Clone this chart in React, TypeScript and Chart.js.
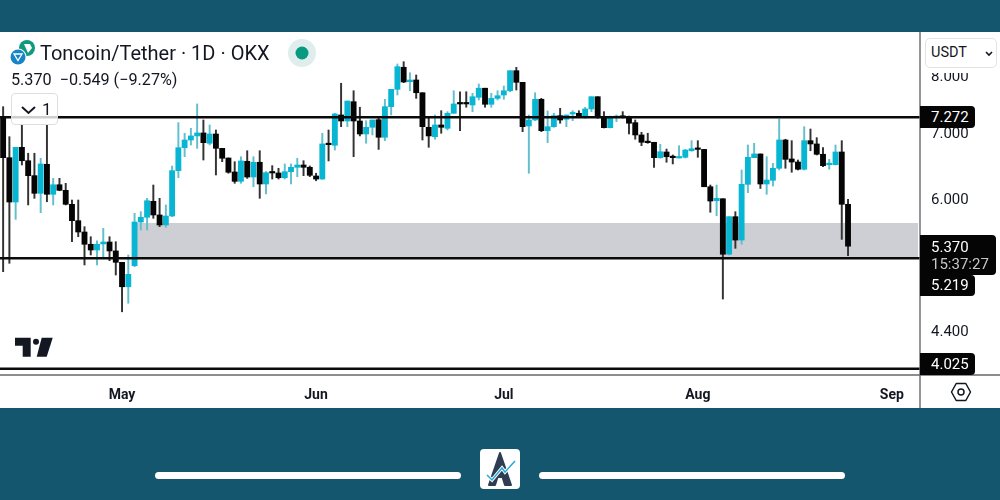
import React, { useEffect, useRef } from "react";
import { Chart, registerables } from "chart.js";

Chart.register(...registerables);

const opens = [
  7.255, 6.613, 5.958, 6.776, 6.566, 6.339, 6.081, 6.511, 6.067, 6.205,
  6.124, 5.926, 5.702, 5.552, 5.394, 5.322, 5.398, 5.423, 5.310, 5.170,
  4.881, 5.129, 5.684, 5.748, 5.968, 5.779, 5.645, 5.765, 6.414, 6.770,
  6.894, 6.960, 7.009, 6.841, 6.992, 6.760, 6.608, 6.394, 6.255, 6.557,
  6.319, 6.542, 6.216, 6.390, 6.379, 6.308, 6.399, 6.465, 6.500, 6.465,
  6.334, 6.289, 6.830, 6.809, 7.312, 7.209, 7.544, 7.209, 6.992, 7.103,
  7.231, 6.938, 7.456, 7.767, 8.180, 7.908, 7.939, 7.705, 7.103, 6.948,
  7.142, 7.086, 7.341, 7.516, 7.516, 7.486, 7.622, 7.787, 7.498, 7.603,
  7.664, 7.741, 8.115, 7.896, 7.125, 7.226, 7.587, 7.047, 7.113, 7.300,
  7.238, 7.329, 7.341, 7.265, 7.416, 7.633, 7.265, 7.097, 7.265, 7.293,
  7.272, 7.181, 6.976, 6.873, 6.857, 6.613, 6.702, 6.628, 6.608, 6.619,
  6.722, 6.754, 6.743, 6.176, 5.976, 6.004, 5.269, 5.756, 5.448, 6.211,
  6.613, 6.671, 6.216, 6.270, 6.450, 6.894, 6.593, 6.546, 6.435, 6.883,
  6.830, 6.666, 6.505, 6.505, 6.702, 5.926,
];
const closes = [
  6.613, 5.958, 6.776, 6.566, 6.339, 6.081, 6.516, 6.067, 6.205, 6.124,
  5.926, 5.702, 5.552, 5.394, 5.322, 5.394, 5.423, 5.310, 5.170, 4.881,
  5.026, 5.684, 5.748, 5.976, 5.779, 5.645, 5.765, 6.414, 6.770, 6.894,
  6.960, 7.009, 6.851, 6.992, 6.760, 6.604, 6.390, 6.255, 6.562, 6.319,
  6.542, 6.216, 6.384, 6.379, 6.308, 6.399, 6.465, 6.500, 6.465, 6.344,
  6.289, 6.830, 6.818, 7.329, 7.209, 7.556, 7.209, 6.992, 7.103, 7.226,
  6.938, 7.456, 7.767, 8.192, 7.902, 7.939, 7.705, 7.113, 6.960, 7.142,
  7.103, 7.341, 7.504, 7.504, 7.504, 7.633, 7.787, 7.498, 7.603, 7.651,
  7.741, 8.115, 7.896, 7.113, 7.226, 7.587, 7.047, 7.113, 7.300, 7.226,
  7.312, 7.341, 7.283, 7.416, 7.633, 7.283, 7.097, 7.265, 7.293, 7.272,
  7.171, 6.976, 6.857, 6.851, 6.613, 6.706, 6.628, 6.613, 6.619, 6.733,
  6.754, 6.743, 6.176, 5.972, 6.010, 5.269, 5.756, 5.448, 6.211, 6.619,
  6.671, 6.216, 6.274, 6.450, 6.894, 6.587, 6.546, 6.435, 6.883, 6.830,
  6.666, 6.490, 6.516, 6.702, 5.926, 5.370,
];
const highs = [
  7.456, 6.948, 6.776, 7.142, 6.682, 6.682, 6.604, 7.142, 6.299, 6.299,
  6.226, 5.986, 5.986, 5.622, 5.491, 5.439, 5.600, 5.491, 5.427, 5.170,
  5.260, 5.802, 5.824, 6.010, 6.201, 6.010, 5.917, 6.485, 7.181, 7.004,
  7.086, 7.504, 7.226, 7.142, 7.058, 6.760, 6.608, 6.551, 6.628, 6.722,
  6.628, 6.722, 6.399, 6.490, 6.450, 6.516, 6.516, 6.604, 6.566, 6.485,
  6.375, 7.004, 7.058, 7.341, 7.878, 7.556, 7.741, 7.446, 7.214, 7.226,
  7.255, 7.587, 7.767, 8.244, 8.288, 8.077, 8.033, 7.705, 7.255, 7.312,
  7.386, 7.369, 7.741, 7.723, 7.723, 7.694, 7.865, 7.787, 7.694, 7.741,
  7.828, 8.115, 8.180, 7.896, 7.312, 7.705, 7.603, 7.381, 7.341, 7.428,
  7.312, 7.386, 7.386, 7.446, 7.633, 7.633, 7.369, 7.293, 7.312, 7.369,
  7.293, 7.226, 7.020, 7.004, 6.857, 6.825, 6.749, 6.655, 6.802, 6.743,
  6.883, 6.883, 6.743, 6.201, 6.201, 6.004, 5.756, 5.824, 6.424, 6.813,
  6.841, 6.671, 6.628, 6.526, 7.243, 6.906, 6.883, 6.577, 7.113, 7.074,
  6.932, 6.770, 6.587, 6.813, 6.883, 5.996,
];
const lows = [
  5.057, 5.158, 5.720, 6.500, 5.917, 6.010, 5.810, 5.962, 5.917, 6.118,
  5.917, 5.427, 5.491, 5.138, 5.260, 5.138, 5.239, 5.190, 5.018, 4.602,
  4.695, 5.117, 5.578, 5.578, 5.734, 5.622, 5.614, 5.756, 6.308, 6.628,
  6.813, 6.760, 6.577, 6.813, 6.349, 6.551, 6.375, 6.226, 6.226, 6.299,
  6.176, 6.010, 6.071, 6.289, 6.289, 6.289, 6.216, 6.324, 6.339, 6.324,
  6.264, 6.284, 6.562, 6.733, 7.113, 7.113, 6.628, 6.960, 6.841, 6.976,
  6.743, 6.883, 7.312, 7.664, 7.889, 7.741, 7.603, 6.894, 6.776, 6.906,
  7.004, 7.058, 7.341, 7.047, 7.446, 7.369, 7.574, 7.446, 7.446, 7.574,
  7.587, 7.723, 7.754, 7.030, 6.375, 7.214, 7.030, 6.851, 7.103, 7.171,
  7.113, 7.214, 7.272, 7.255, 7.369, 7.255, 7.092, 7.092, 7.197, 7.260,
  6.992, 6.906, 6.802, 6.841, 6.465, 6.604, 6.542, 6.516, 6.608, 6.608,
  6.713, 6.619, 6.176, 5.816, 5.769, 4.742, 5.260, 5.343, 5.394, 6.090,
  6.613, 6.151, 6.067, 6.186, 6.424, 6.450, 6.390, 6.424, 6.424, 6.722,
  6.655, 6.475, 6.435, 6.500, 5.457, 5.252,
];

const monthNames = ["Apr", "May", "Jun", "Jul", "Aug", "Sep"];
const monthFirstDays = [12, 1, 1, 1, 1, 1];
const monthLengths = [30, 31, 30, 31, 31, 5];
const priceTicks = [8, 7, 6, 4.4];
const levels = [7.272, 5.219, 4.025];
const zoneLow = 5.219;
const zoneHigh = 5.671;
const zoneFirstCategory = 21;

const labels: string[] = [];
monthNames.forEach((m, k) => {
  for (let d = monthFirstDays[k]; d <= monthLengths[k]; d++) labels.push(`${m} ${d}`);
});

const TEAL = "#08b6d4";
const TEAL_WICK = "#62bfcd";
const BLACK = "#050505";
const BLACK_WICK = "#333333";
const FRAME = "#15566f";
const FONT = "Roboto, sans-serif";

const chartDecor = {
  id: "chartDecor",
  beforeDatasetsDraw(chart: any) {
    const { ctx, chartArea, scales } = chart;
    const y = scales.y;
    const x0 = scales.x.getPixelForValue(zoneFirstCategory) - 1;
    ctx.save();
    ctx.fillStyle = "#cecfd4";
    const top = y.getPixelForValue(zoneHigh);
    ctx.fillRect(x0, top, chartArea.right - 2 - x0, y.getPixelForValue(zoneLow) - top);
    ctx.restore();
  },
  afterDatasetsDraw(chart: any) {
    const { ctx, chartArea, scales } = chart;
    ctx.save();
    ctx.strokeStyle = "#0a0a0a";
    ctx.lineWidth = 2.4;
    levels.forEach((v) => {
      const py = scales.y.getPixelForValue(v);
      ctx.beginPath();
      ctx.moveTo(chartArea.left, py);
      ctx.lineTo(chartArea.right, py);
      ctx.stroke();
    });
    ctx.strokeStyle = "#666a6e";
    ctx.lineWidth = 1.4;
    ctx.beginPath();
    ctx.moveTo(chartArea.left, chartArea.bottom);
    ctx.lineTo(1000, chartArea.bottom);
    ctx.moveTo(chartArea.right, 32);
    ctx.lineTo(chartArea.right, 408);
    ctx.stroke();
    ctx.restore();
  },
};

const pos = (left: number, top: number, extra: any = {}): any => ({
  position: "absolute",
  left,
  top,
  fontFamily: FONT,
  whiteSpace: "nowrap",
  ...extra,
});

function Tag({ top, height, width, lines, nudge = 0 }: { top: number; height: number; width: number; lines: string[]; nudge?: number }) {
  return (
    <div
      style={pos(920, top, {
        width,
        height,
        background: "#050505",
        borderRadius: "0 4px 4px 0",
        color: "#fff",
        fontSize: 15,
        lineHeight: "17px",
        paddingLeft: 11,
        boxSizing: "border-box",
        paddingTop: (height - lines.length * 17) / 2 + nudge,
      })}
    >
      {lines.map((l, i) => (
        <div key={l} style={i ? { color: "#c8c8c8" } : undefined}>
          {l}
        </div>
      ))}
    </div>
  );
}

export default function App() {
  const ref = useRef<HTMLCanvasElement | null>(null);
  useEffect(() => {
    const up = (i: number) => closes[i] >= opens[i];
    const chart = new Chart(ref.current as HTMLCanvasElement, {
      type: "bar",
      data: {
        labels,
        datasets: [
          {
            label: "Body",
            data: opens.map((o, i) => [o, closes[i]]) as any,
            backgroundColor: opens.map((_, i) => (up(i) ? TEAL : BLACK)),
            barThickness: 5.2,
            minBarLength: 1.5,
            grouped: false,
          } as any,
          {
            label: "Wick",
            data: lows.map((l, i) => [l, highs[i]]) as any,
            backgroundColor: lows.map((_, i) => (up(i) ? TEAL_WICK : BLACK_WICK)),
            barThickness: 1.3,
            grouped: false,
          } as any,
        ],
      },
      options: {
        responsive: false,
        animation: false,
        devicePixelRatio: 1,
        layout: { padding: { left: 0, right: 0, top: 32, bottom: 92 } },
        plugins: { legend: { display: false }, tooltip: { enabled: false } },
        scales: {
          x: {
            type: "category",
            offset: true,
            grid: { display: false },
            border: { display: false },
            afterFit: (s: any) => {
              s.height = 33;
              s.paddingLeft = 0;
              s.paddingRight = 0;
            },
            ticks: {
              autoSkip: false,
              maxRotation: 0,
              minRotation: 0,
              padding: 4,
              color: "#131722",
              font: { family: FONT, size: 14, weight: "bold" },
              callback: (_v: any, i: number) => (labels[i].endsWith(" 1") ? labels[i].split(" ")[0] : ""),
            },
          },
          y: {
            type: "logarithmic",
            position: "right",
            min: 3.966,
            max: 8.888,
            grid: { display: false },
            border: { display: false },
            afterFit: (s: any) => {
              s.width = 80;
              s.paddingTop = 0;
              s.paddingBottom = 0;
            },
            afterBuildTicks: (s: any) => {
              s.ticks = priceTicks.map((value) => ({ value }));
            },
            ticks: {
              padding: 3,
              labelOffset: 1,
              color: "#131722",
              font: { family: FONT, size: 15 },
              callback: (v: any) => Number(v).toFixed(3),
            },
          },
        },
      } as any,
      plugins: [chartDecor],
    });
    return () => chart.destroy();
  }, []);

  return (
    <div style={{ position: "fixed", left: 0, top: 0, width: 1000, height: 500, overflow: "hidden", background: FRAME }}>
      <div style={{ position: "absolute", left: 0, top: 32, width: 1000, height: 376, background: "#fff" }} />
      <canvas ref={ref} width={1000} height={500} style={{ position: "absolute", left: 0, top: 0, display: "block" }} />

      <svg width={1000} height={500} style={{ position: "absolute", left: 0, top: 0 }}>
        <circle cx={27} cy={48} r={8} fill="#11997f" />
        <path d="M24 44 h6 l2 4 l-4 5 z" fill="#fff" />
        <circle cx={18} cy={57} r={8.5} fill="#fff" />
        <circle cx={18} cy={57} r={7.5} fill="#1684c7" />
        <path d="M14 54 h8 l-4 6.5 z" fill="none" stroke="#fff" strokeWidth={1.3} />
        <circle cx={302} cy={53} r={14} fill="#dfeeec" />
        <circle cx={302} cy={53} r={6.5} fill="#089981" />
        <path d="M15 337.7 H30.7 V356.7 H22.7 V345.7 H15 Z" fill="#131722" />
        <circle cx={36} cy={341.7} r={3} fill="#131722" />
        <path d="M41.7 337.7 H52.7 L46.7 356.7 H36.7 Z" fill="#131722" />
        <path d="M961 382.5 L969.5 387.2 V396.8 L961 401.5 L952.5 396.8 V387.2 Z" fill="none" stroke="#131722" strokeWidth={1.5} strokeLinejoin="round" transform="rotate(90 961 392)" />
        <circle cx={961} cy={392} r={3} fill="none" stroke="#131722" strokeWidth={1.5} />
        <rect x={155} y={472} width={306} height={7} rx={3.5} fill="#fff" />
        <rect x={539} y={472} width={306} height={7} rx={3.5} fill="#fff" />
        <rect x={480} y={449} width={40} height={40} rx={4} fill="#fff" />
        <path d="M500 453 L511 485 H505 L502.5 477 H497.5 L495 485 H489 Z" fill="#2e3d52" stroke="#2e3d52" strokeWidth={2} strokeLinejoin="round" />
        <path d="M487 475 L492 480 L502 468 L505 472 L515 461" fill="none" stroke="#fff" strokeWidth={3.5} />
        <path d="M487 475 L492 480 L502 468 L505 472 L515 461" fill="none" stroke="#29a9d6" strokeWidth={1.5} />
      </svg>

      <div style={pos(40, 41, { fontSize: 20, lineHeight: "24px", color: "#131722" })}>Toncoin/Tether · 1D · OKX</div>
      <div style={pos(11, 71, { fontSize: 16.2, lineHeight: "18px", color: "#131722" })}>
        5.370&nbsp;&nbsp;−0.549 (−9.27%)
      </div>
      <div
        style={pos(11, 93, {
          width: 47,
          height: 32,
          boxSizing: "border-box",
          border: "1px solid #dedede",
          borderRadius: 4,
          background: "rgba(255,255,255,0.8)",
        })}
      >
        <svg width={20} height={12} style={{ position: "absolute", left: 7, top: 11 }}>
          <path d="M3 2 L9.5 8 L16 2" fill="none" stroke="#131722" strokeWidth={2} />
        </svg>
        <div style={pos(30, 4, { fontSize: 17, lineHeight: "22px", color: "#131722" })}>1</div>
      </div>

      <div style={{ position: "absolute", left: 922, top: 66, width: 76, height: 7, background: "#fff" }} />
      <div
        style={pos(925, 38, {
          width: 72,
          height: 30,
          boxSizing: "border-box",
          background: "#fff",
          border: "1px solid #e3e3e3",
          borderRadius: 5,
          fontSize: 14.5,
          lineHeight: "28px",
          paddingLeft: 5,
          color: "#131722",
        })}
      >
        USDT
        <svg width={10} height={8} style={{ position: "absolute", left: 58, top: 11 }}>
          <path d="M2 2 L5 5 L8 2" fill="none" stroke="#131722" strokeWidth={1.6} />
        </svg>
      </div>

      <Tag top={106} height={22} width={55} lines={["7.272"]} />
      <Tag top={235} height={40} width={76} lines={["5.370", "15:37:27"]} nudge={1} />
      <Tag top={275} height={21} width={55} lines={["5.219"]} />
      <Tag top={353} height={22} width={55} lines={["4.025"]} />
    </div>
  );
}
